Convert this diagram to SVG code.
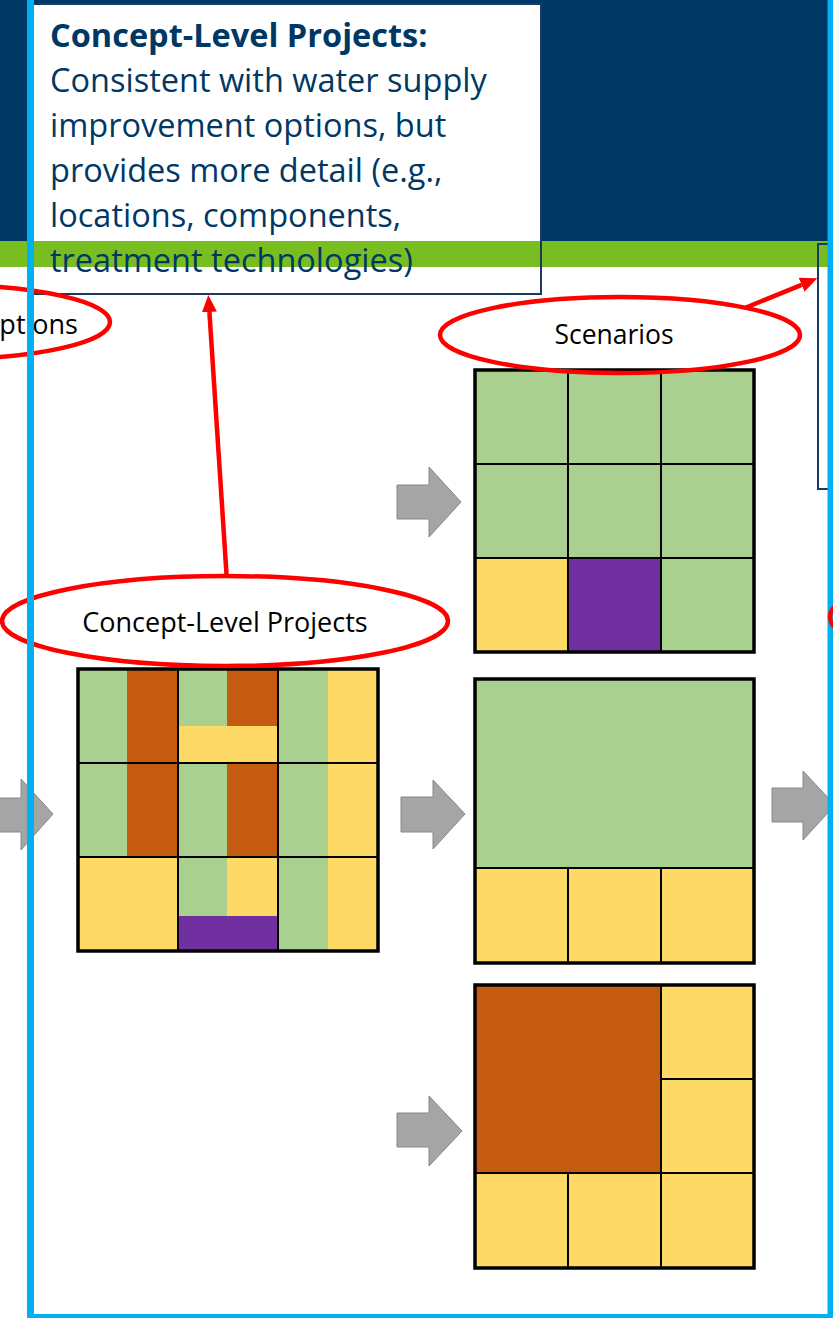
<svg xmlns="http://www.w3.org/2000/svg" width="833" height="1318" viewBox="0 0 833 1318">
  <style>
    .gr { fill: #A9D08E; }
    .or { fill: #C55A11; }
    .ye { fill: #FFD966; }
    .pu { fill: #7030A0; }
    .gl { stroke: #000; stroke-width: 2; fill: none; }
    .go { stroke: #000; stroke-width: 3.5; fill: none; }
    .red { stroke: #FF0000; stroke-width: 4.5; fill: none; }
    .blk { fill: #A5A5A5; stroke: #888888; stroke-width: 1; }
    .lbl { font-family: "Open Sans", "Noto Sans", sans-serif; fill: #000; }
    .nav { font-family: "Open Sans", "Noto Sans", sans-serif; fill: #003865; font-size: 32.5px; }
  </style>
  <defs>
    <marker id="ah" markerUnits="userSpaceOnUse" markerWidth="18" markerHeight="16" refX="0" refY="7.5" orient="auto">
      <path d="M0,0 L17,7.5 L0,15 z" fill="#FF0000"/>
    </marker>
  </defs>

  <rect width="833" height="1318" fill="#FFFFFF"/>

  <g id="header">
    <rect x="0" y="0" width="833" height="241" fill="#003865"/>
  </g>

  <g id="concept-box">
    <rect x="33" y="4" width="508" height="290" fill="#FFFFFF"/>
  </g>

  <g id="green-band">
    <rect x="0" y="241" width="833" height="26" fill="#78BE20"/>
  </g>

  <g id="concept-box-text">
    <rect x="33" y="4" width="508" height="290" fill="none" stroke="#1B3A63" stroke-width="2"/>
    <text class="nav" x="50" y="47" font-weight="bold" font-size="29">Concept-Level Projects:</text>
    <text class="nav" x="50" y="92">Consistent with water supply</text>
    <text class="nav" x="50" y="137">improvement options, but</text>
    <text class="nav" x="50" y="182">provides more detail (e.g.,</text>
    <text class="nav" x="50" y="227">locations, components,</text>
    <text class="nav" x="50" y="272">treatment technologies)</text>
  </g>

  <g id="right-box">
    <rect x="818" y="244" width="40" height="245" fill="none" stroke="#1B3A63" stroke-width="2"/>
  </g>

  <g id="grid-concept">
    <rect x="78" y="669" width="49" height="188" class="gr"/>
    <rect x="127" y="669" width="51" height="188" class="or"/>
    <rect x="178" y="669" width="49" height="57" class="gr"/>
    <rect x="227" y="669" width="51" height="57" class="or"/>
    <rect x="178" y="726" width="100" height="37" class="ye"/>
    <rect x="178" y="763" width="49" height="94" class="gr"/>
    <rect x="227" y="763" width="51" height="94" class="or"/>
    <rect x="278" y="669" width="50" height="282" class="gr"/>
    <rect x="328" y="669" width="50" height="282" class="ye"/>
    <rect x="78" y="857" width="100" height="94" class="ye"/>
    <rect x="178" y="857" width="49" height="59" class="gr"/>
    <rect x="227" y="857" width="51" height="59" class="ye"/>
    <rect x="178" y="916" width="100" height="35" class="pu"/>
    <path class="gl" d="M178,669 V951 M278,669 V951 M78,763 H378 M78,857 H378"/>
    <rect x="78" y="669" width="300" height="282" class="go"/>
  </g>

  <g id="grid-scenario-1">
    <rect x="475" y="370" width="279" height="282" class="gr"/>
    <rect x="475" y="558" width="93" height="94" class="ye"/>
    <rect x="568" y="558" width="93" height="94" class="pu"/>
    <path class="gl" d="M568,370 V652 M661,370 V652 M475,464 H754 M475,558 H754"/>
    <rect x="475" y="370" width="279" height="282" class="go"/>
  </g>

  <g id="grid-scenario-2">
    <rect x="475" y="679" width="279" height="189" class="gr"/>
    <rect x="475" y="868" width="279" height="95" class="ye"/>
    <path class="gl" d="M475,868 H754 M568,868 V963 M661,868 V963"/>
    <rect x="475" y="679" width="279" height="284" class="go"/>
  </g>

  <g id="grid-scenario-3">
    <rect x="475" y="985" width="279" height="283" class="ye"/>
    <rect x="475" y="985" width="186" height="188" class="or"/>
    <path class="gl" d="M661,985 V1268 M661,1079 H754 M475,1173 H754 M568,1173 V1268"/>
    <rect x="475" y="985" width="279" height="283" class="go"/>
  </g>

  <g id="options-ellipse">
    <ellipse cx="-55" cy="322" rx="165" ry="37" class="red"/>
    <text class="lbl" x="78" y="334" font-size="27" text-anchor="end">ptions</text>
  </g>

  <g id="concept-ellipse">
    <ellipse cx="225" cy="621" rx="223" ry="45" class="red"/>
    <text class="lbl" x="225" y="632" font-size="27" text-anchor="middle">Concept-Level Projects</text>
  </g>

  <g id="scenarios-ellipse">
    <ellipse cx="620" cy="335" rx="180" ry="38" class="red"/>
    <text class="lbl" x="614" y="344" font-size="26.5" text-anchor="middle">Scenarios</text>
  </g>

  <g id="connectors">
    <line x1="226.5" y1="574" x2="209.4" y2="312" class="red" marker-end="url(#ah)"/>
    <line x1="746" y1="307.5" x2="801.6" y2="284.8" class="red" marker-end="url(#ah)"/>
    <polygon class="blk" points="397,485 429,485 429,467 461,502 429,537 429,519 397,519"/>
    <polygon class="blk" points="-12,798 21,798 21,779 53,814 21,850 21,832 -12,832"/>
    <polygon class="blk" points="401,797 433,797 433,780 465,814 433,849 433,832 401,832"/>
    <polygon class="blk" points="772,788 803,788 803,771 835,805 803,840 803,822 772,822"/>
    <polygon class="blk" points="397,1113 429,1113 429,1096 462,1131 429,1166 429,1147 397,1147"/>
  </g>

  <g id="frame">
    <rect x="30.5" y="-10" width="800.5" height="1327.5" fill="none" stroke="#00B0F0" stroke-width="7"/>
  </g>

  <g id="right-ellipse">
    <ellipse cx="1010" cy="617" rx="180" ry="45" class="red"/>
  </g>
</svg>
